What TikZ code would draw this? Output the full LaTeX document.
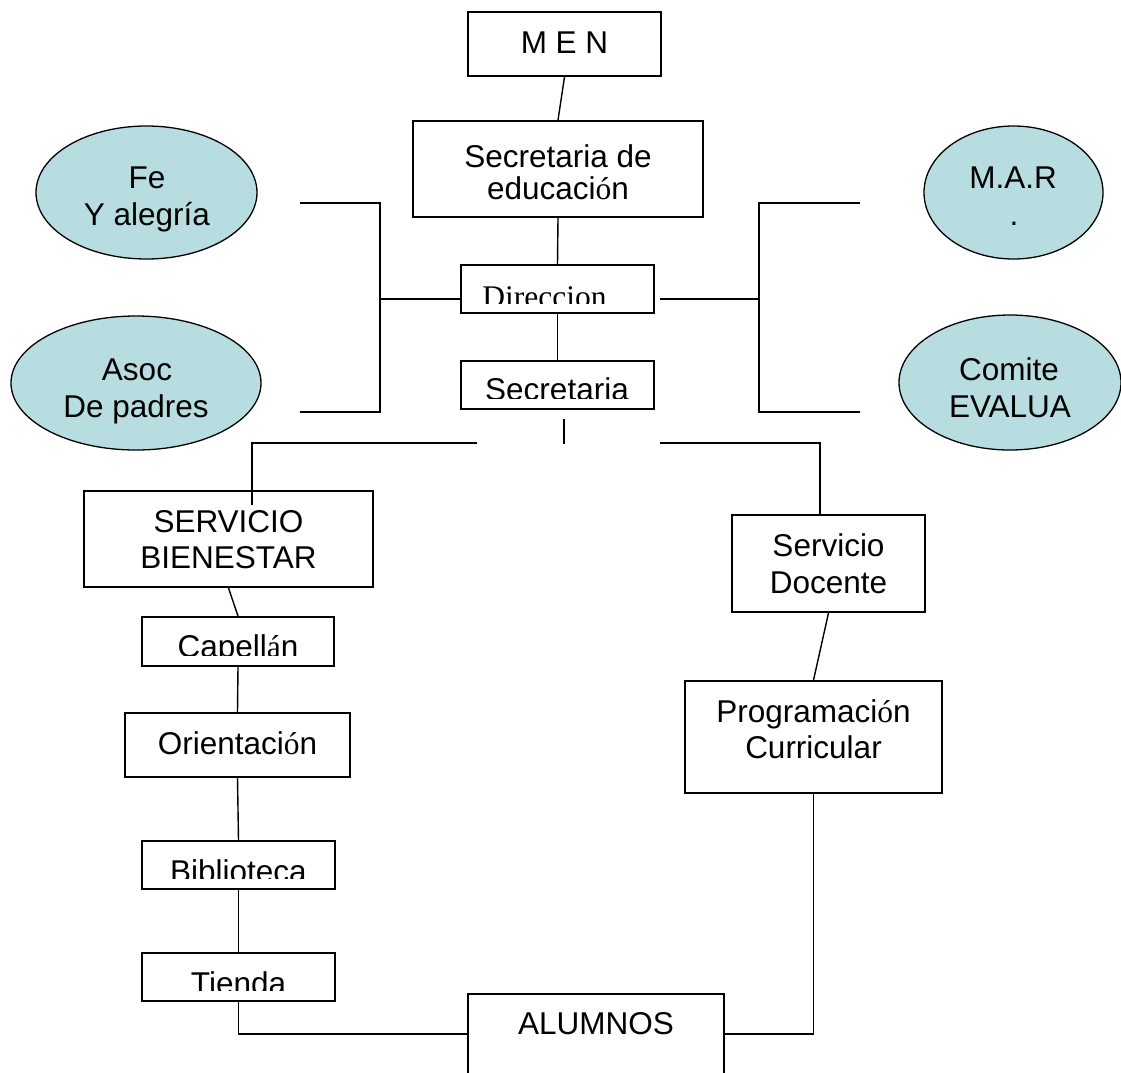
\documentclass[tikz,border=0pt]{standalone}
\usepackage{fontspec}
\setmainfont{Liberation Sans}
\newfontfamily\serifface{Liberation Serif}
\usetikzlibrary{shapes.geometric}
\definecolor{ellfill}{RGB}{183,221,224}
\newcommand\srfchar[1]{{\serifface #1}}
\begin{document}
\begin{tikzpicture}[x=1pt,y=-1pt,
  font=\fontsize{31.5}{37}\selectfont,
  box/.style={draw, rectangle, line width=1.8pt, inner sep=0pt},
  oval/.style={draw, ellipse, fill=ellfill, line width=1.3pt, inner sep=0pt},
  txt/.style={anchor=base, inner sep=0pt},
  conn/.style={line width=1.4pt},
  brk/.style={line width=1.8pt}]
\clip (0,0) rectangle (1121,1072);
% boxes
\node[box, minimum width=193, minimum height=64] (men) at (564.5,44) {};
\node[box, minimum width=290, minimum height=96] (sed) at (558,169) {};
\node[box, minimum width=193, minimum height=48] (dir) at (557.5,289) {};
\node[box, minimum width=193, minimum height=48] (sec) at (557.5,385) {};
\node[box, minimum width=289, minimum height=96] (sb) at (228.5,539) {};
\node[box, minimum width=193, minimum height=97] (sd) at (828.5,563.5) {};
\node[box, minimum width=192, minimum height=49] (cap) at (238,641.5) {};
\node[box, minimum width=225, minimum height=64] (ori) at (237.5,745) {};
\node[box, minimum width=193, minimum height=48] (bib) at (238.5,865) {};
\node[box, minimum width=193, minimum height=48] (tie) at (238.5,977) {};
\node[box, minimum width=257, minimum height=112] (pc) at (813.5,737) {};
\node[box, minimum width=256, minimum height=80] (alu) at (596,1034) {};
% ellipses
\node[oval, minimum width=221, minimum height=133] (fe) at (146.5,192.5) {};
\node[oval, minimum width=250, minimum height=134] (asoc) at (136,383) {};
\node[oval, minimum width=179, minimum height=133] (mar) at (1013.5,192.5) {};
\node[oval, minimum width=222, minimum height=135] (com) at (1010,382.5) {};
% texts
\node[txt] (ment) at (564.5,53) {M E N};
\node[txt] (sedt1) at (558,167) {Secretaria de};
\node[txt] (sedt2) at (558,199) {educaci\srfchar{ó}n};
\node[txt] (fet1) at (147,188) {Fe};
\node[txt] (fet2) at (147,225) {Y alegría};
\node[txt] (mart1) at (1013,188) {M.A.R};
\node[txt] (mart2) at (1014,225) {.};
\node[txt] (asoct1) at (137,380) {Asoc};
\node[txt] (asoct2) at (136,417) {De padres};
\node[txt] (comt1) at (1009,380) {Comite};
\node[txt] (comt2) at (1010,417) {EVALUA};
\begin{scope}
  \clip (462,266) rectangle (653,303);
  \node[txt, font=\serifface\fontsize{31.5}{37}\selectfont] (dirt) at (544.5,307) {Direccion};
\end{scope}
\begin{scope}
  \clip (462,362) rectangle (653,398.3);
  \node[txt] (sect) at (557,400.5) {Secretaria};
\end{scope}
\node[txt] (sbt1) at (228.5,532) {SERVICIO};
\node[txt] (sbt2) at (228.5,568) {BIENESTAR};
\node[txt] (sdt1) at (828.5,556) {Servicio};
\node[txt] (sdt2) at (828.5,593) {Docente};
\begin{scope}
  \clip (143,618) rectangle (333,655);
  \node[txt] (capt) at (238,657.5) {Capell\srfchar{á}n};
\end{scope}
\node[txt] (orit) at (237.5,754) {Orientaci\srfchar{ó}n};
\begin{scope}
  \clip (143,842) rectangle (334,878);
  \node[txt] (bibt) at (238.5,882.5) {Biblioteca};
\end{scope}
\begin{scope}
  \clip (143,954) rectangle (334,990);
  \node[txt] (tiet) at (238.5,994) {Tienda};
\end{scope}
\node[txt] (pct1) at (813.5,722) {Programaci\srfchar{ó}n};
\node[txt] (pct2) at (813.5,758) {Curricular};
\node[txt] (alut) at (596,1034) {ALUMNOS};
% coordinates for free ends
\coordinate (lt1) at (300,203);
\coordinate (lt2) at (380,203);
\coordinate (lb2) at (380,412);
\coordinate (lb1) at (300,412);
\coordinate (lm) at (380,299);
\coordinate (rt1) at (860,203);
\coordinate (rt2) at (759,203);
\coordinate (rb2) at (759,412);
\coordinate (rb1) at (860,412);
\coordinate (rm) at (759,299);
\coordinate (rm0) at (660,299);
\coordinate (s1) at (564,419);
\coordinate (s2) at (564,444);
\coordinate (hl0) at (477,443);
\coordinate (hl1) at (252,443);
\coordinate (hl2) at (252,505);
\coordinate (hr0) at (660,443);
\coordinate (hr1) at (820,443);
% connectors
\draw[conn] (men.south) -- (sed.north);
\draw[conn] (sed.south) -- (dir.north);
\draw[conn] (dir.south) -- (sec.north);
\draw[brk] (lt1) -- (lt2) -- (lb2) -- (lb1);
\draw[brk] (lm) -- (dir.west |- lm);
\draw[brk] (rt1) -- (rt2) -- (rb2) -- (rb1);
\draw[brk] (rm0) -- (rm);
\draw[conn] (s1) -- (s2);
\draw[conn] (hl0) -- (hl1) -- (hl2);
\draw[conn] (hr0) -- (hr1) -- (hr1 |- sd.north);
\draw[conn] (sb.south) -- (cap.north);
\draw[conn] (cap.south) -- (ori.north);
\draw[conn] (ori.south) -- (bib.north);
\draw[conn] (bib.south) -- (tie.north);
\draw[conn] (tie.south) |- (alu.west);
\draw[conn] (alu.east) -| (pc.south);
\draw[conn] (sd.south) -- (pc.north);
\end{tikzpicture}
\end{document}
